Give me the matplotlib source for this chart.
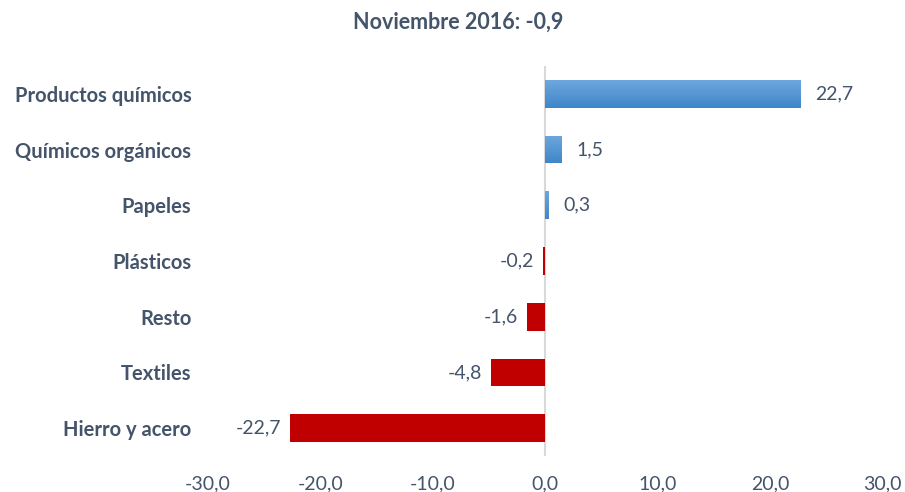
import numpy as np
import matplotlib.pyplot as plt
from matplotlib.colors import LinearSegmentedColormap

# datos
categorias = ['Productos químicos', 'Químicos orgánicos', 'Papeles', 'Plásticos',
              'Resto', 'Textiles', 'Hierro y acero']
valores = [22.7, 1.5, 0.3, -0.2, -1.6, -4.8, -22.7]
ticks = [-30, -20, -10, 0, 10, 20, 30]
titulo = 'Noviembre 2016: -0,9'

texto = '#44546A'
plt.rcParams['font.family'] = ['Lato', 'DejaVu Sans']

fig = plt.figure(figsize=(9.05, 4.92), dpi=100)
ax = fig.add_axes([0.230, 0.073, 0.745, 0.793])

y = np.arange(len(categorias))[::-1]
alto = 0.5
bars = ax.barh(y, valores, height=alto, color=['#5B9BD5' if v > 0 else '#C00000' for v in valores], zorder=2)

# degradado en las barras azules
grad = np.linspace(0, 1, 100).reshape(-1, 1)
cmap = LinearSegmentedColormap.from_list('azul', ['#3F86C9', '#6EA7DD'])
for b, v in zip(bars, valores):
    if v > 0:
        x0, y0 = b.get_x(), b.get_y()
        im = ax.imshow(grad, cmap=cmap, aspect='auto', origin='lower',
                       extent=[x0, x0 + b.get_width(), y0, y0 + b.get_height()], zorder=3)
        im.set_clip_path(b)

for yi, v in zip(y, valores):
    s = f'{v:.1f}'.replace('.', ',')
    if v > 0:
        ax.text(v + 1.3, yi, s, va='center', ha='left', fontsize=14, color=texto)
    else:
        ax.text(v - 0.8, yi, s, va='center', ha='right', fontsize=14, color=texto)

ax.axvline(0, color='#D9D9D9', lw=1.5, zorder=1)
ax.set_xlim(-30, 30)
ax.set_ylim(-0.5, len(categorias) - 0.5)
ax.set_xticks(ticks)
ax.set_xticklabels([f'{t:.1f}'.replace('.', ',') for t in ticks], fontsize=14, color=texto)
ax.set_yticks(y)
ax.set_yticklabels(categorias, fontsize=14.5, fontweight='bold', color=texto)
ax.tick_params(length=0)
ax.tick_params(axis='y', pad=12)
ax.tick_params(axis='x', pad=14)
for sp in ax.spines.values():
    sp.set_visible(False)

fig.text(0.506, 0.955, titulo, ha='center', va='center', fontsize=15.5, fontweight='bold', color=texto)

fig.savefig('out.png', dpi=100)
